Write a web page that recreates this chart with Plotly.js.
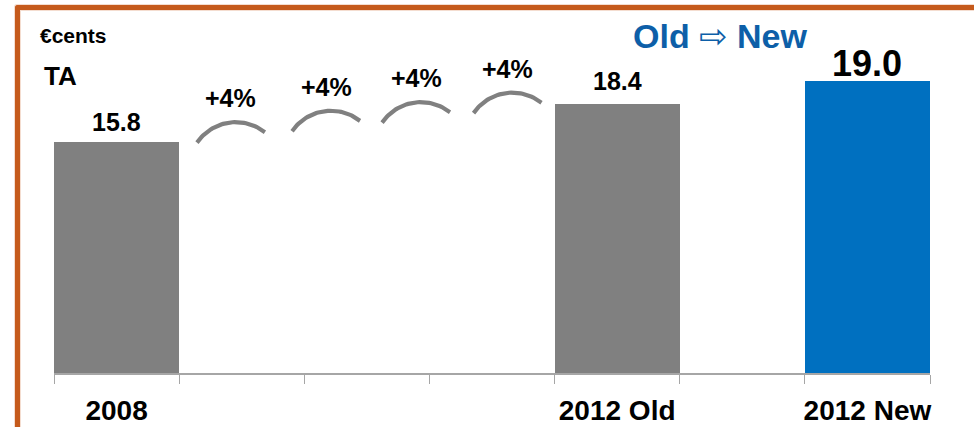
<!DOCTYPE html>
<html><head><meta charset="utf-8">
<script src="https://cdn.plot.ly/plotly-3.0.1.min.js"></script>
<style>
html,body{margin:0;padding:0;background:#fff;}
#wrap{position:relative;width:974px;height:427px;overflow:hidden;background:#fff;}
#chart{width:974px;height:427px;}
#frame{position:absolute;left:15px;top:5px;width:1000px;height:460px;border-top:5px solid #C55A1C;border-left:5px solid #C55A1C;border-top-left-radius:3px;box-sizing:border-box;pointer-events:none;box-shadow:-1px -1px 0 #F4DDD0, inset 1px 1px 0 #F4DDD0;}
</style></head>
<body><div id="wrap"><div id="chart"></div><div id="frame"></div></div>
<script>
// ---- data ----
const categories = ['2008', ' ', '  ', '   ', '2012 Old', '    ', '2012 New'];
// bar heights as drawn in the source picture (the "2012 New" bar is drawn taller than its label)
const barValues = [15.8, null, null, null, 18.4, null, 20.0];
const barLabels = ['15.8', '', '', '', '18.4', '', '19.0'];
const growthLabels = ['+4%', '+4%', '+4%', '+4%'];
// arc (growth connector) chord mid-points in data units: slot index / value
const arcX = [0.914, 1.674, 2.393, 3.124];
const arcY = [16.11, 16.89, 17.48, 18.13];
const unitLabel = '€cents';
const seriesLabel = 'TA';
const headlineFrom = 'Old', headlineArrow = '⇨', headlineTo = 'New';

// ---- styles ----
const barColors = ['#808080', '#808080', '#808080', '#808080', '#808080', '#808080', '#0070C0'];
const labelSizes = [25, 0, 0, 0, 25, 0, 36];
const labelShift = [4, 0, 0, 0, 7, 0, -5];
const FONT = '"Liberation Sans", Arial, Helvetica, sans-serif';
const M = {l: 54, r: 44, t: 30, b: 54};
const W = 974 - M.l - M.r, H = 427 - M.t - M.b;
const yMax = 23.46;
const pxX = W / categories.length, pxY = H / yMax;
const px2paperX = p => (p - M.l) / W;
const px2paperY = p => (427 - M.b - p) / H;

// arc geometry (pixels)
const R = 47, HALF = 47 * Math.PI / 180, TILT = 8.7 * Math.PI / 180;
const arcXs = [], arcYs = [];
arcX.forEach((cx, i) => {
  const s = R * (1 - Math.cos(HALF));
  const nx = -Math.sin(TILT), ny = Math.cos(TILT);
  const ccx = -(R - s) * nx, ccy = -(R - s) * ny;
  for (let k = 0; k <= 40; k++) {
    const phi = Math.PI / 2 + TILT - HALF + 2 * HALF * k / 40;
    const dx = ccx + R * Math.cos(phi), dy = ccy + R * Math.sin(phi);
    arcXs.push(cx + dx / pxX);
    arcYs.push(arcY[i] + dy / pxY);
  }
  arcXs.push(null); arcYs.push(null);
});

const traces = [
  {type: 'bar', x: categories, y: barValues, marker: {color: barColors, line: {width: 0}},
   hoverinfo: 'none'},
  {type: 'scatter', mode: 'lines', x: arcXs, y: arcYs, xaxis: 'x2', yaxis: 'y2',
   line: {color: '#808080', width: 4.2}, hoverinfo: 'none', connectgaps: false}
];

const annotations = [];
categories.forEach((c, i) => {
  if (barValues[i] === null) return;
  annotations.push({x: i, y: barValues[i], xref: 'x2', yref: 'y2', text: '<b>' + barLabels[i] + '</b>',
    showarrow: false, yanchor: 'bottom', xanchor: 'center', yshift: labelShift[i],
    font: {size: labelSizes[i], color: '#000', family: FONT}});
});
growthLabels.forEach((g, i) => {
  annotations.push({x: arcX[i], y: arcY[i], xref: 'x2', yref: 'y2', text: '<b>' + g + '</b>',
    showarrow: false, yanchor: 'middle', xanchor: 'center', yshift: 39,
    font: {size: 25, color: '#000', family: FONT}});
});
annotations.push({x: px2paperX(38), y: px2paperY(35), xref: 'paper', yref: 'paper', text: '<b>' + unitLabel + '</b>',
  showarrow: false, xanchor: 'left', yanchor: 'middle', font: {size: 21, color: '#000', family: FONT}});
annotations.push({x: px2paperX(42), y: px2paperY(75.5), xref: 'paper', yref: 'paper', text: '<b>' + seriesLabel + '</b>',
  showarrow: false, xanchor: 'left', yanchor: 'middle', font: {size: 26, color: '#000', family: FONT}});
annotations.push({x: px2paperX(720), y: px2paperY(36.5), xref: 'paper', yref: 'paper',
  text: '<b>' + headlineFrom + '\u00a0<span style="font-family:DejaVu Sans;font-weight:normal">' + headlineArrow + '</span>\u00a0' + headlineTo + '</b>',
  showarrow: false, xanchor: 'center', yanchor: 'middle', font: {size: 34, color: '#0D5FA8', family: FONT}});

const layout = {
  width: 974, height: 427, margin: M,
  paper_bgcolor: '#fff', plot_bgcolor: '#fff',
  font: {family: FONT, color: '#000'},
  showlegend: false, bargap: 0,
  xaxis: {type: 'category', categoryorder: 'array', categoryarray: categories, range: [-0.5, categories.length - 0.5],
    tickson: 'boundaries', ticks: 'outside', ticklen: 9, tickcolor: '#A6A6A6', tickwidth: 1, tickangle: 0,
    showline: true, linecolor: '#A6A6A6', linewidth: 2, showgrid: false, zeroline: false,
    tickfont: {size: 28, weight: 'bold', color: '#000', family: FONT}, ticklabelstandoff: 11, fixedrange: true},
  yaxis: {range: [0, yMax], visible: false, showgrid: false, zeroline: false, fixedrange: true},
  xaxis2: {overlaying: 'x', anchor: 'y2', range: [-0.5, categories.length - 0.5], visible: false, fixedrange: true},
  yaxis2: {overlaying: 'y', anchor: 'x2', range: [0, yMax], visible: false, fixedrange: true},
  annotations: annotations
};

Plotly.newPlot('chart', traces, layout, {staticPlot: true, displayModeBar: false});
</script>
</body></html>
